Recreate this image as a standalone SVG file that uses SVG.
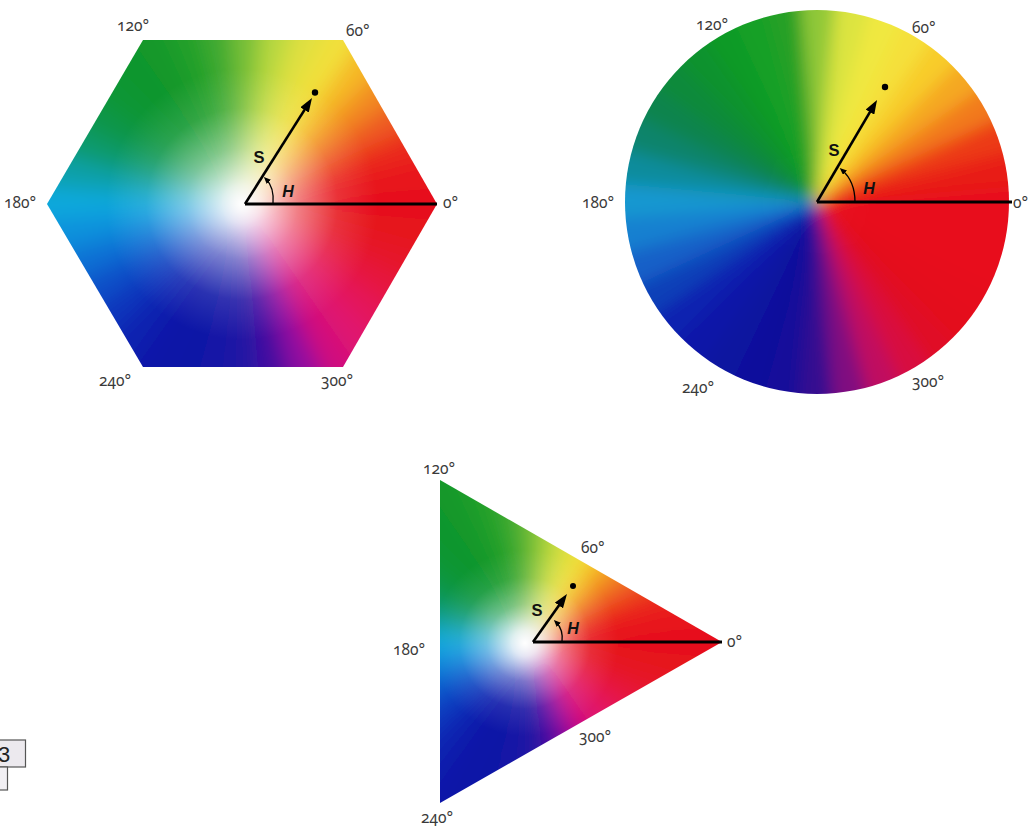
<svg xmlns="http://www.w3.org/2000/svg" width="1030" height="829" viewBox="0 0 1030 829">
<style>
.lbl{font-family:"Noto Sans","Liberation Sans",sans-serif;font-size:15.5px;fill:#3a3a3a;font-variant-numeric:oldstyle-nums}
.s{font-family:"Liberation Sans",Arial,sans-serif;font-size:16.5px;font-weight:bold;fill:#111;text-anchor:middle}
.h{font-family:"Liberation Sans",Arial,sans-serif;font-size:16px;font-weight:bold;font-style:italic;fill:#111;text-anchor:middle}
.axis{stroke:#000;stroke-width:3;fill:none}
.vec{stroke:#000;stroke-width:2.6;fill:none;marker-end:url(#ah)}
.arc{stroke:#000;stroke-width:1.3;fill:none;marker-end:url(#sah)}
</style>
<defs>
<path id="w" d="M0,0 L262,-24.3 L262,24.3 Z"/>
<marker id="ah" markerUnits="userSpaceOnUse" markerWidth="14" markerHeight="10" refX="8" refY="5" orient="auto"><path d="M0,0 L14,5 L0,10 z" fill="#000"/></marker>
<marker id="sah" markerUnits="userSpaceOnUse" markerWidth="7" markerHeight="6" refX="4" refY="3" orient="auto"><path d="M0,0 L7,3 L0,6 z" fill="#000"/></marker>
<filter id="b10" x="-50%" y="-50%" width="200%" height="200%"><feGaussianBlur stdDeviation="10"/></filter>
<filter id="b8" x="-50%" y="-50%" width="200%" height="200%"><feGaussianBlur stdDeviation="8"/></filter>
<clipPath id="hexclip"><polygon points="143,40 343,40 437,204 343,367 143,367 47,204"/></clipPath>
<clipPath id="circclip"><circle cx="817" cy="202" r="192"/></clipPath>
<clipPath id="triclip"><polygon points="440,480 722,642 440,803"/></clipPath>
<radialGradient id="whiteHex" gradientUnits="userSpaceOnUse" cx="242" cy="204" r="160">
<stop offset="0" stop-color="#fff" stop-opacity="1"/>
<stop offset="0.12" stop-color="#fff" stop-opacity="0.85"/>
<stop offset="0.35" stop-color="#fff" stop-opacity="0.45"/>
<stop offset="0.6" stop-color="#fff" stop-opacity="0.12"/>
<stop offset="0.85" stop-color="#fff" stop-opacity="0"/>
</radialGradient>
<radialGradient id="whiteTri" gradientUnits="userSpaceOnUse" cx="525" cy="643" r="110">
<stop offset="0" stop-color="#fff" stop-opacity="1"/>
<stop offset="0.12" stop-color="#fff" stop-opacity="0.85"/>
<stop offset="0.35" stop-color="#fff" stop-opacity="0.4"/>
<stop offset="0.6" stop-color="#fff" stop-opacity="0.1"/>
<stop offset="0.85" stop-color="#fff" stop-opacity="0"/>
</radialGradient>
<g id="wh" filter="url(#b10)">
<use href="#w" fill="#e6101c"/>
<use href="#w" transform="rotate(-10)" fill="#e8141c"/>
<use href="#w" transform="rotate(-20)" fill="#ea2a1e"/>
<use href="#w" transform="rotate(-30)" fill="#ee5a20"/>
<use href="#w" transform="rotate(-40)" fill="#f28a22"/>
<use href="#w" transform="rotate(-50)" fill="#f5b828"/>
<use href="#w" transform="rotate(-60)" fill="#f2e03a"/>
<use href="#w" transform="rotate(-70)" fill="#e0e040"/>
<use href="#w" transform="rotate(-80)" fill="#b8d840"/>
<use href="#w" transform="rotate(-90)" fill="#78c038"/>
<use href="#w" transform="rotate(-100)" fill="#40aa30"/>
<use href="#w" transform="rotate(-110)" fill="#20a02c"/>
<use href="#w" transform="rotate(-120)" fill="#12982c"/>
<use href="#w" transform="rotate(-130)" fill="#10962e"/>
<use href="#w" transform="rotate(-140)" fill="#109634"/>
<use href="#w" transform="rotate(-150)" fill="#109648"/>
<use href="#w" transform="rotate(-160)" fill="#109a6c"/>
<use href="#w" transform="rotate(-170)" fill="#10a0a8"/>
<use href="#w" transform="rotate(-180)" fill="#10a8dc"/>
<use href="#w" transform="rotate(-190)" fill="#1090dc"/>
<use href="#w" transform="rotate(-200)" fill="#1070d4"/>
<use href="#w" transform="rotate(-210)" fill="#1050c8"/>
<use href="#w" transform="rotate(-220)" fill="#1034bc"/>
<use href="#w" transform="rotate(-230)" fill="#1020b0"/>
<use href="#w" transform="rotate(-240)" fill="#1014a8"/>
<use href="#w" transform="rotate(-250)" fill="#1012a6"/>
<use href="#w" transform="rotate(-260)" fill="#1812a6"/>
<use href="#w" transform="rotate(-270)" fill="#2412a4"/>
<use href="#w" transform="rotate(-280)" fill="#4410a0"/>
<use href="#w" transform="rotate(-290)" fill="#9010a0"/>
<use href="#w" transform="rotate(-300)" fill="#d0107e"/>
<use href="#w" transform="rotate(-310)" fill="#e01270"/>
<use href="#w" transform="rotate(-320)" fill="#e4145a"/>
<use href="#w" transform="rotate(-330)" fill="#e61440"/>
<use href="#w" transform="rotate(-340)" fill="#e6142c"/>
<use href="#w" transform="rotate(-350)" fill="#e6121f"/>
</g>
<g id="wc" filter="url(#b8)">
<use href="#w" fill="#e8101a"/>
<use href="#w" transform="rotate(-10)" fill="#e81a18"/>
<use href="#w" transform="rotate(-20)" fill="#ec3a18"/>
<use href="#w" transform="rotate(-30)" fill="#f27a1e"/>
<use href="#w" transform="rotate(-40)" fill="#f5a823"/>
<use href="#w" transform="rotate(-50)" fill="#f8cc2c"/>
<use href="#w" transform="rotate(-60)" fill="#f5e03a"/>
<use href="#w" transform="rotate(-70)" fill="#f0e840"/>
<use href="#w" transform="rotate(-80)" fill="#dce440"/>
<use href="#w" transform="rotate(-90)" fill="#90c838"/>
<use href="#w" transform="rotate(-100)" fill="#28a028"/>
<use href="#w" transform="rotate(-110)" fill="#14a028"/>
<use href="#w" transform="rotate(-120)" fill="#109a28"/>
<use href="#w" transform="rotate(-130)" fill="#10922e"/>
<use href="#w" transform="rotate(-140)" fill="#108a3a"/>
<use href="#w" transform="rotate(-150)" fill="#10844e"/>
<use href="#w" transform="rotate(-160)" fill="#10846c"/>
<use href="#w" transform="rotate(-170)" fill="#108c9c"/>
<use href="#w" transform="rotate(-180)" fill="#1498d0"/>
<use href="#w" transform="rotate(-190)" fill="#1480d0"/>
<use href="#w" transform="rotate(-200)" fill="#1460c8"/>
<use href="#w" transform="rotate(-210)" fill="#1040b8"/>
<use href="#w" transform="rotate(-220)" fill="#1024b0"/>
<use href="#w" transform="rotate(-230)" fill="#1018a8"/>
<use href="#w" transform="rotate(-240)" fill="#1014a0"/>
<use href="#w" transform="rotate(-250)" fill="#10109c"/>
<use href="#w" transform="rotate(-260)" fill="#14109a"/>
<use href="#w" transform="rotate(-270)" fill="#341090"/>
<use href="#w" transform="rotate(-280)" fill="#801080"/>
<use href="#w" transform="rotate(-290)" fill="#c01060"/>
<use href="#w" transform="rotate(-300)" fill="#d81040"/>
<use href="#w" transform="rotate(-310)" fill="#e01028"/>
<use href="#w" transform="rotate(-320)" fill="#e4101c"/>
<use href="#w" transform="rotate(-330)" fill="#e6101a"/>
<use href="#w" transform="rotate(-340)" fill="#e8101a"/>
<use href="#w" transform="rotate(-350)" fill="#e8101a"/>
</g>
</defs>
<rect width="1030" height="829" fill="#fff"/>

<g id="hexagon">
<g clip-path="url(#hexclip)"><use href="#wh" transform="translate(245,204)"/></g>
<polygon points="143,40 343,40 437,204 343,367 143,367 47,204" fill="url(#whiteHex)"/>
<text class="lbl" x="117" y="31">120°</text>
<text class="lbl" x="346" y="36">60°</text>
<text class="lbl" x="4" y="208">180°</text>
<text class="lbl" x="443" y="208">0°</text>
<text class="lbl" x="99" y="386">240°</text>
<text class="lbl" x="321" y="386">300°</text>
<text class="s" x="259" y="163">S</text>
<text class="h" x="288" y="197">H</text>
</g>

<g id="circle">
<g clip-path="url(#circclip)"><use href="#wc" transform="translate(817,202)"/></g>
<text class="lbl" x="696" y="30">120°</text>
<text class="lbl" x="912" y="33">60°</text>
<text class="lbl" x="582" y="208">180°</text>
<text class="lbl" x="1013" y="208">0°</text>
<text class="lbl" x="682" y="393">240°</text>
<text class="lbl" x="912" y="387">300°</text>
<text class="s" x="834" y="156">S</text>
<text class="h" x="869" y="194">H</text>
</g>

<g id="triangle">
<g clip-path="url(#triclip)"><use href="#wh" transform="translate(533,642)"/></g>
<polygon points="440,480 722,642 440,803" fill="url(#whiteTri)"/>
<text class="lbl" x="423" y="474">120°</text>
<text class="lbl" x="581" y="553">60°</text>
<text class="lbl" x="393" y="655">180°</text>
<text class="lbl" x="727" y="647">0°</text>
<text class="lbl" x="579" y="742">300°</text>
<text class="lbl" x="421" y="823">240°</text>
<text class="s" x="537" y="616">S</text>
<text class="h" x="573" y="634">H</text>
</g>

<g id="connectors">
<line class="axis" x1="245" y1="204" x2="437" y2="204"/>
<line class="vec" x1="245" y1="204" x2="308.8" y2="103.1"/>
<circle cx="315" cy="92.5" r="3.2" fill="#000"/>
<path class="arc" d="M273,204 C274,193 272,185 266,179"/>

<line class="axis" x1="817" y1="202" x2="1012" y2="202"/>
<line class="vec" x1="817" y1="202" x2="874" y2="105.2"/>
<circle cx="885" cy="87" r="3.2" fill="#000"/>
<path class="arc" d="M855,202 C855,188 850,177 842,170"/>

<line class="axis" x1="533" y1="642" x2="722" y2="642"/>
<line class="vec" x1="533" y1="642" x2="563.5" y2="598.9"/>
<circle cx="573" cy="586" r="3" fill="#000"/>
<path class="arc" d="M562,642 C563,634 561,627 556,622"/>
</g>

<g id="legend-box">
<rect x="-2" y="740" width="27.5" height="27" fill="#ece9ee" stroke="#555" stroke-width="1.2"/>
<text x="-2" y="762" font-family="Liberation Sans, Arial, sans-serif" font-size="22" fill="#222">3</text>
<rect x="-2" y="767" width="9.5" height="23" fill="#f1eff3" stroke="#555" stroke-width="1.2"/>
</g>
</svg>
